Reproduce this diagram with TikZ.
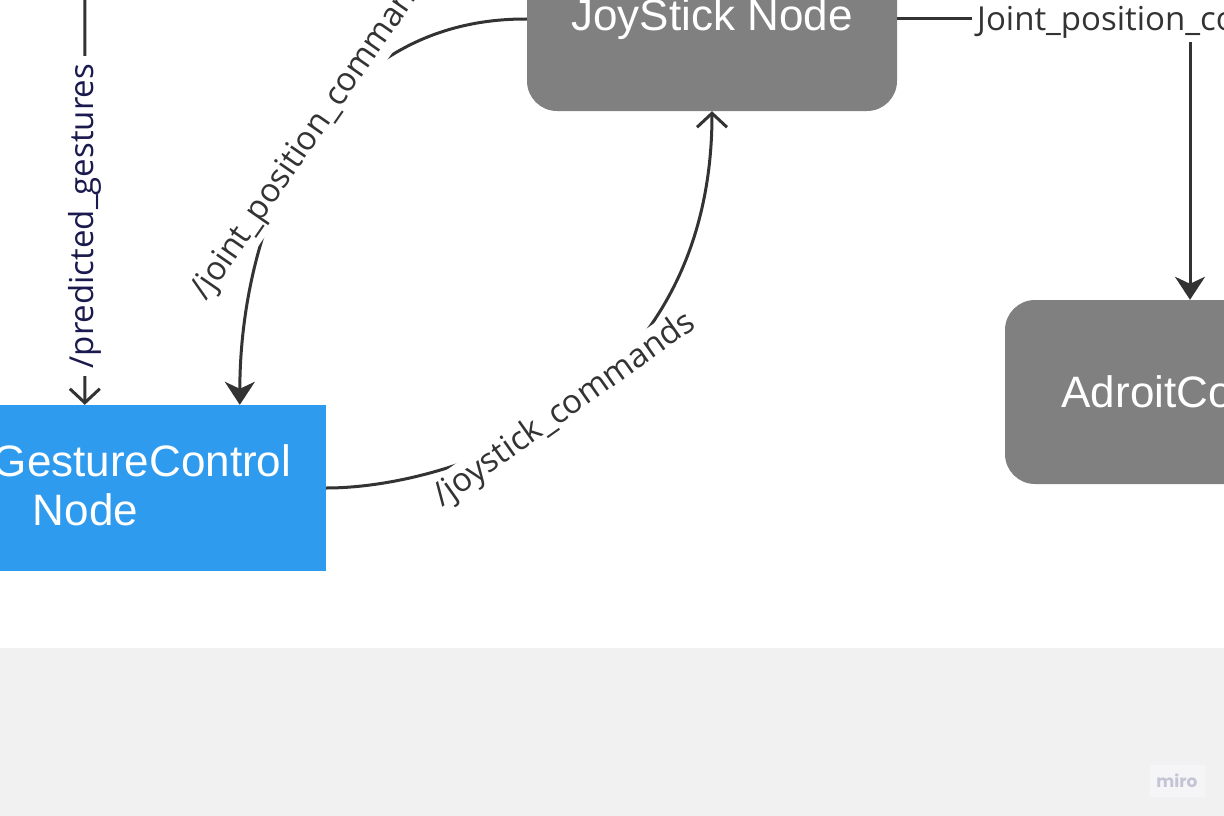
\documentclass[tikz,border=0pt]{standalone}
\usepackage{fontspec}
\setmainfont{Liberation Sans}
\newfontfamily\lblfont{Open Sans}
\newfontfamily\mirofont{Poppins}
\usetikzlibrary{arrows.meta}
\definecolor{linec}{HTML}{333333}
\definecolor{boxgray}{HTML}{808080}
\definecolor{boxblue}{HTML}{2F9BEF}
\definecolor{navy}{HTML}{1A1A4E}
\definecolor{footer}{HTML}{F1F1F1}
\definecolor{mirotext}{HTML}{C4C4D4}
\definecolor{mirobox}{HTML}{F5F5F7}
\tikzset{
  conn/.style={draw=linec, line width=3pt},
  fillhead/.style={-{Stealth[length=23pt,width=30pt,inset=7pt]}},
  openhead/.style={-{Straight Barb[length=14pt,width=30pt]}},
  lab/.style={fill=white, text=linec, inner xsep=5pt, inner ysep=3pt,
    font=\lblfont\fontsize{33}{37}\selectfont},
  graybox/.style={fill=boxgray, rounded corners=30pt, minimum width=370pt,
    minimum height=184pt, text=white, font=\fontsize{44}{49}\selectfont},
  bluebox/.style={fill=boxblue, minimum width=368pt, minimum height=166pt,
    text=white, align=left, font=\fontsize{44}{49}\selectfont},
}
\begin{document}
\begin{tikzpicture}[x=1pt,y=-1pt]
\useasboundingbox (0,0) rectangle (1224,816);
\clip (0,0) rectangle (1224,816);
\fill[white] (0,0) rectangle (1224,648);
\fill[footer] (0,648) rectangle (1224,816);
\node[fill=mirobox, minimum width=55pt, minimum height=32pt, inner sep=0pt] (mirob) at (1177,781) {};
\node[text=mirotext, font=\mirofont\bfseries\fontsize{17}{20}\selectfont] (miro) at (1177,781) {miro};

\node[graybox] (js) at (712,19) {JoyStick Node};
\node[graybox] (ad) at (1190,392) {AdroitControl};
\node[bluebox, minimum height=166pt] (gc) at (142,488) {};
\node[text=white, align=left, font=\fontsize{44}{49}\selectfont] (gct) at (142,485) {GestureControl\\\hspace*{40pt}Node};

\coordinate (pgtop) at (85,-60);
\draw[conn, openhead] (pgtop) -- ([xshift=127pt]gc.north west)
  node[lab, text=navy, rotate=90, pos=0.594, inner xsep=8pt] (lpg) {/predicted\_gestures};

\draw[conn, fillhead] (js.west) .. controls (318,18) and (240,228) .. ([xshift=282pt]gc.north west)
  node[lab, sloped, pos=0.465] (ljp) {/joint\_position\_commands};

\draw[conn, openhead] (gc.east) .. controls (449,488) and (712,406) .. (js.south)
  node[lab, sloped, pos=0.5] (ljs) {/joystick\_commands};

\draw[conn, fillhead] (js.east) -- (js.east -| ad.north) -- (ad.north);
\node[lab, anchor=base west] (ljp2) at (972,31) {Joint\_position\_commands};
\end{tikzpicture}
\end{document}
